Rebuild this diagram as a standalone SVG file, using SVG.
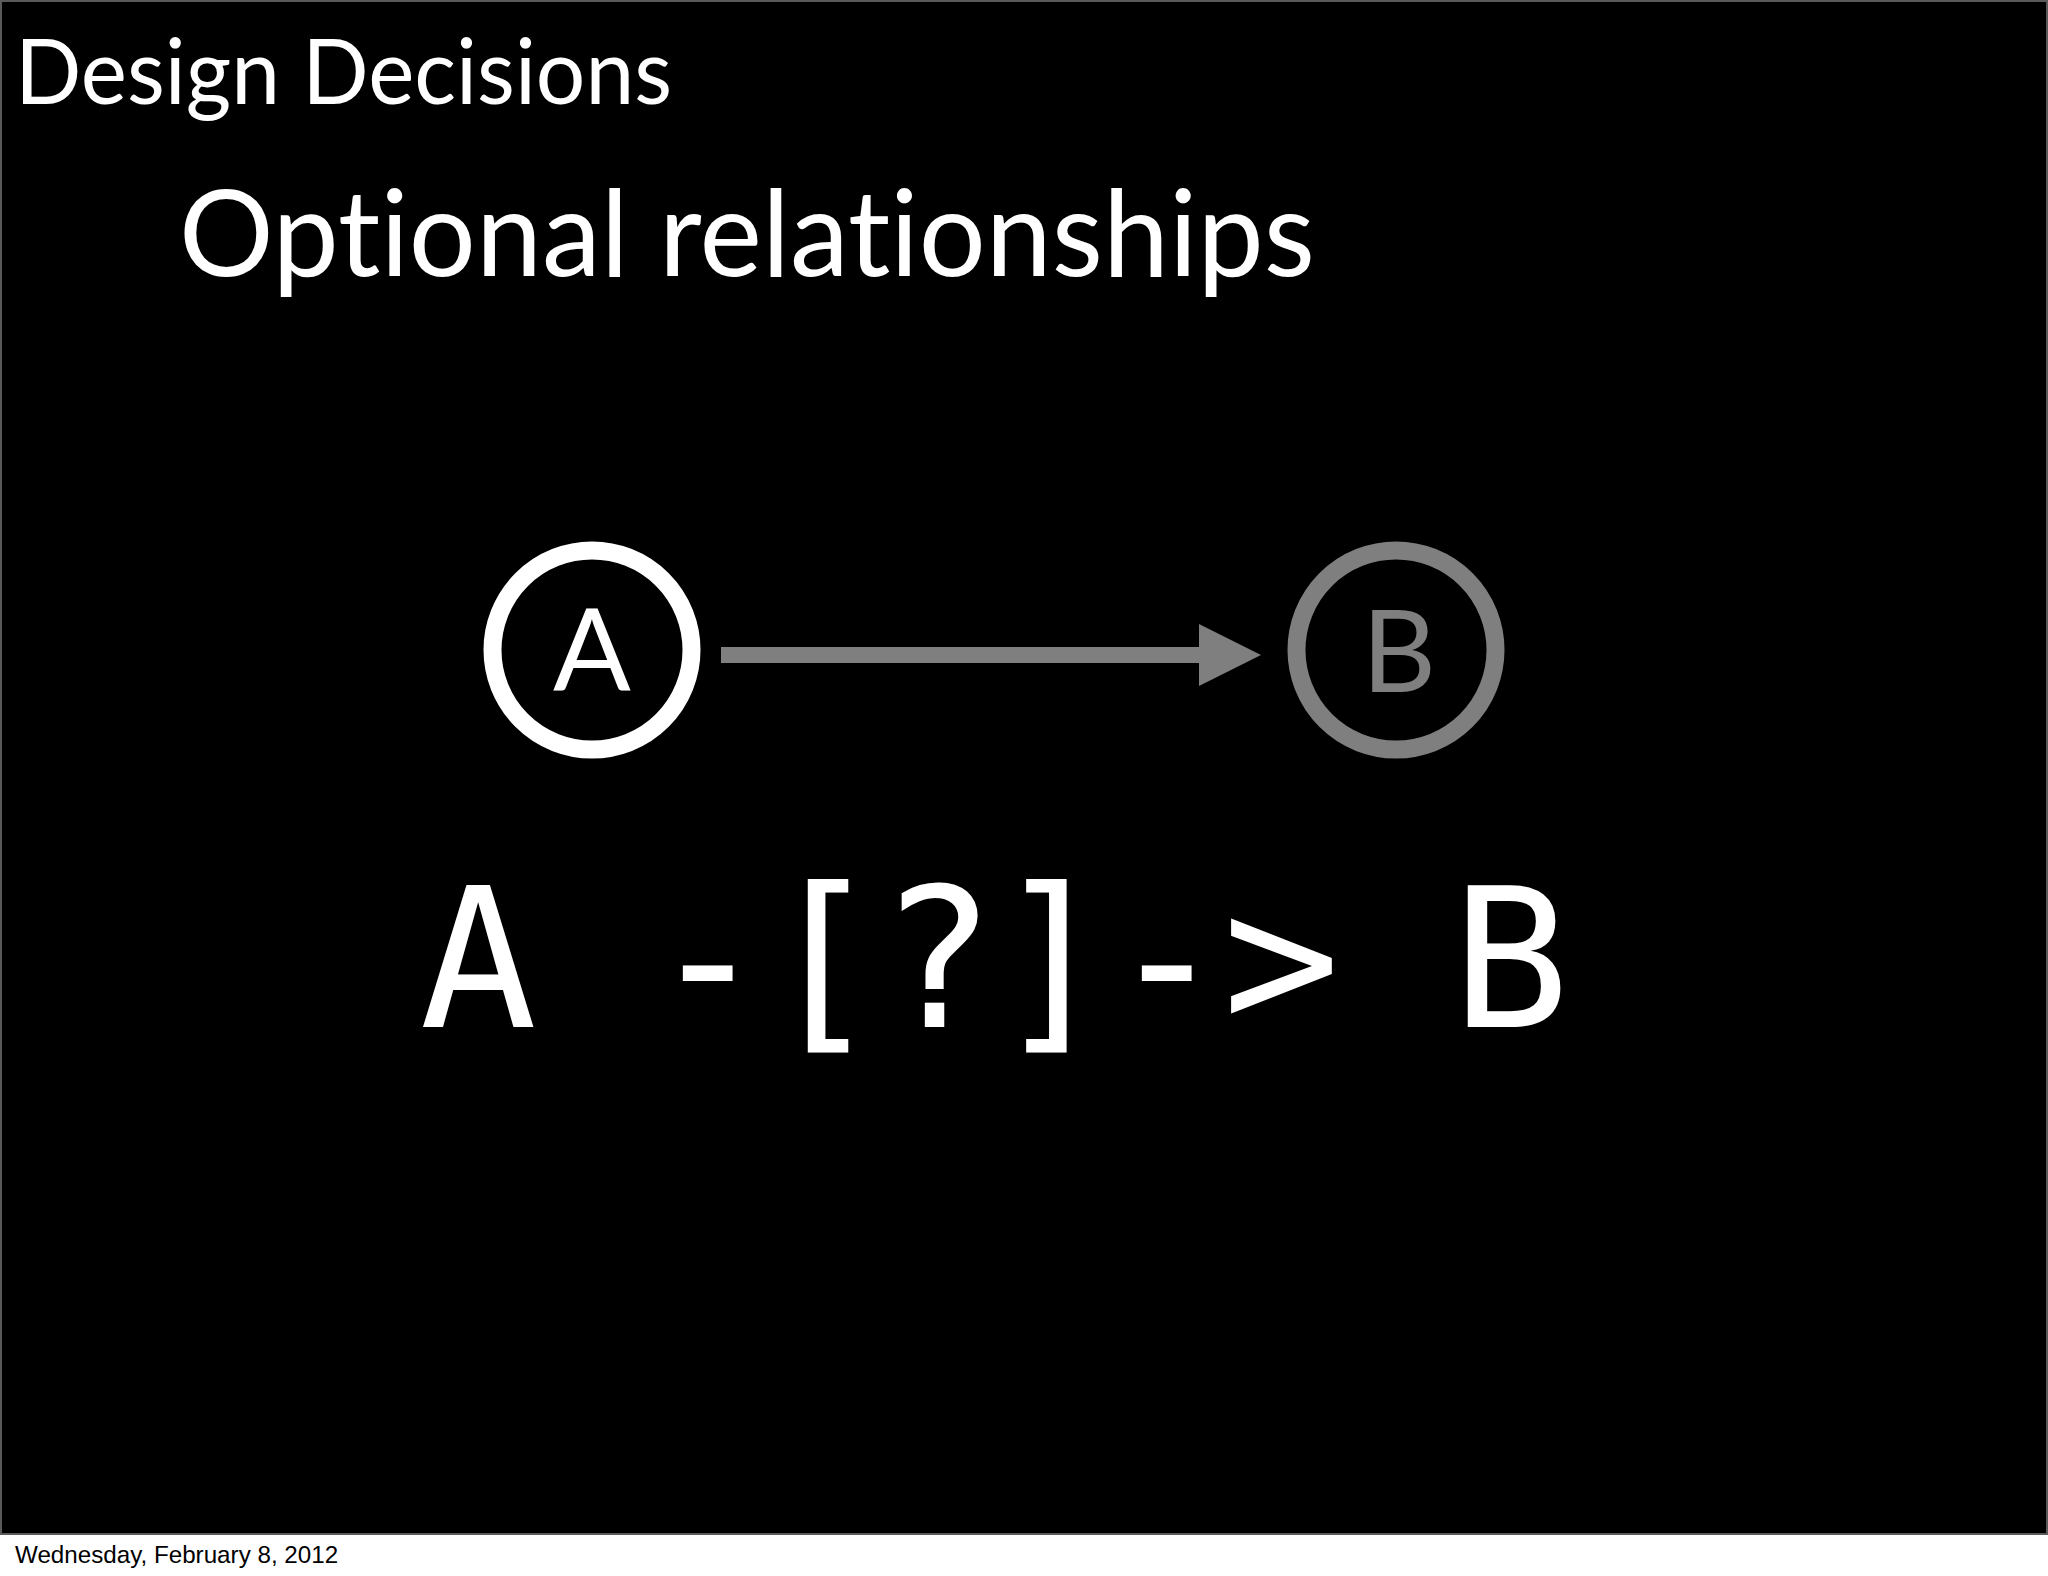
<svg xmlns="http://www.w3.org/2000/svg" width="2048" height="1576" viewBox="0 0 2048 1576">
  <defs>
    <style>
      .gill { font-family: Lato, "Open Sans", "Liberation Sans", sans-serif; font-variant-ligatures: none; font-feature-settings: "liga" 0, "clig" 0; }
      .mono { font-family: "DejaVu Sans Mono", "Liberation Mono", monospace; }
      .white { fill: #ffffff; }
      .gray { fill: #7f7f7f; }
    </style>
    <marker id="arrowHead" viewBox="0 0 62 62" refX="0" refY="31" markerWidth="62" markerHeight="62" markerUnits="userSpaceOnUse" orient="auto">
      <path d="M0,0 L62,31 L0,62 Z" fill="#7f7f7f"/>
    </marker>
  </defs>

  <rect x="0" y="0" width="2048" height="1576" fill="#ffffff"/>
  <rect x="1" y="1" width="2046" height="1533" fill="#000000" stroke="#5a5a5a" stroke-width="2"/>

  <text class="gill white" x="15" y="104" font-size="92" textLength="657" lengthAdjust="spacingAndGlyphs">Design Decisions</text>
  <text class="gill white" x="179" y="276" font-size="120" textLength="1136" lengthAdjust="spacingAndGlyphs">Optional relationships</text>

  <g id="connectors">
    <line x1="721" y1="655" x2="1199" y2="655" stroke="#7f7f7f" stroke-width="16" marker-end="url(#arrowHead)"/>
  </g>

  <g id="node-A">
    <circle cx="592" cy="650" r="99.5" fill="#000000" stroke="#ffffff" stroke-width="18"/>
    <text class="gill white" x="592" y="690" font-size="115" text-anchor="middle">A</text>
  </g>

  <g id="node-B">
    <circle cx="1396" cy="650" r="99.5" fill="#000000" stroke="#7f7f7f" stroke-width="18"/>
    <text class="gill gray" x="1399" y="692" font-size="115" text-anchor="middle">B</text>
  </g>

  <text class="mono white" x="419.5" y="1027" font-size="195" textLength="1150" lengthAdjust="spacing" xml:space="preserve">A -[?]-> B</text>

  <text x="15" y="1563" font-family="'Liberation Sans', Arial, sans-serif" font-size="24.2" fill="#000000">Wednesday, February 8, 2012</text>
</svg>
